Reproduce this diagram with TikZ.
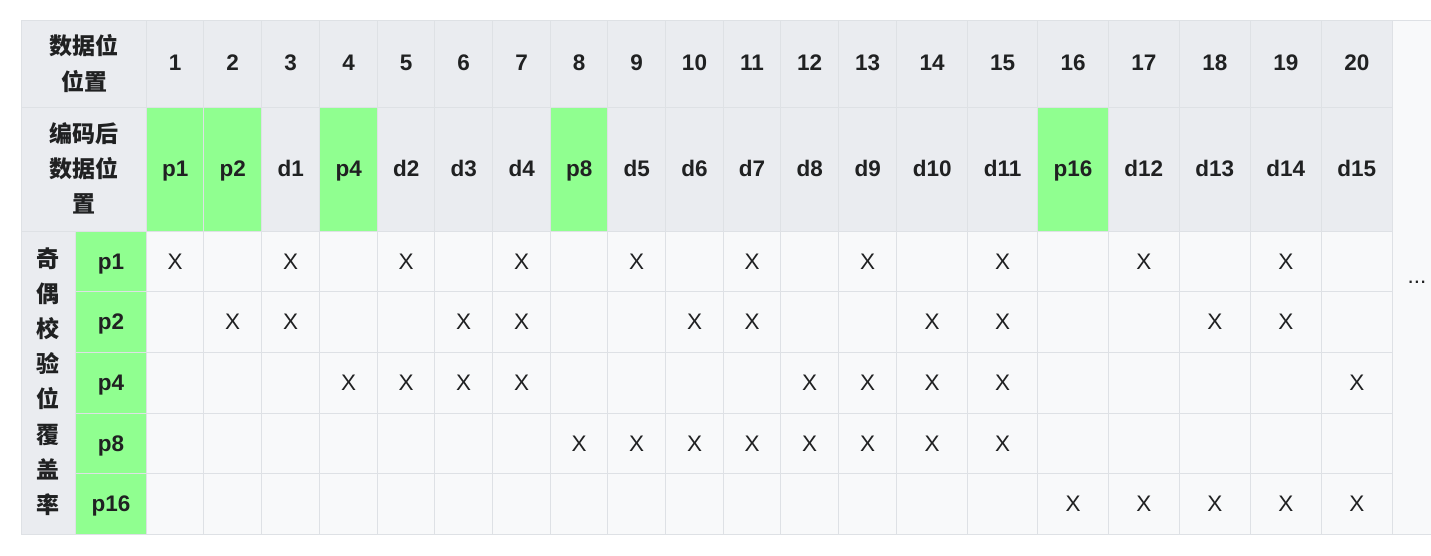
\documentclass[tikz,border=0pt]{standalone}
\usepackage{fontspec}
\setmainfont{Liberation Sans}
\newfontfamily\cjk{Noto Sans CJK SC}
\definecolor{hdr}{HTML}{EAECF0}
\definecolor{cellbg}{HTML}{F8F9FA}
\definecolor{grn}{HTML}{90FF90}
\definecolor{gridc}{HTML}{DEE1E5}
\definecolor{ink}{HTML}{202122}
\begin{document}
\begin{tikzpicture}[x=1pt,y=-1pt,
  bold/.style={anchor=base,inner sep=0pt,text=ink,font=\fontsize{22.5}{27}\selectfont\bfseries},
  xmk/.style={anchor=base,inner sep=0pt,text=ink,font=\fontsize{22.5}{27}\selectfont},
  cjkhead/.style={align=center,inner sep=0pt,text=ink,font=\cjk\bfseries\fontsize{23}{35.2}\selectfont},
  gridline/.style={draw=gridc,line width=1pt}]
\useasboundingbox (0,0) rectangle (1431,556);
% backgrounds
\fill[hdr] (21.3,20.3) rectangle (1392.3,231.3);
\fill[hdr] (21.3,231.3) rectangle (75.3,534);
\fill[cellbg] (146.7,231.3) rectangle (1392.3,534);
\fill[cellbg] (1392.3,20.3) rectangle (1431,534);
\fill[grn] (75.3,231.3) rectangle (146.7,534);
\foreach \l/\r in {146.7/203.7,203.7/261.7,319.7/377.7,550.7/607.7,1037.7/1108.3}
  \fill[grn] (\l,107.3) rectangle (\r,231.3);
% grid
\draw[gridline] (21.3,20.3) -- (1431,20.3);
\draw[gridline] (21.3,107.3) -- (1392.3,107.3);
\draw[gridline] (21.3,231.3) -- (1392.3,231.3);
\foreach \y in {291.7,352.3,413.3,473.3}
  \draw[gridline] (75.3,\y) -- (1392.3,\y);
\draw[gridline] (21.3,534) -- (1431,534);
\draw[gridline] (21.3,20.3) -- (21.3,534);
\draw[gridline] (75.3,231.3) -- (75.3,534);
\foreach \x in {146.7,203.7,261.7,319.7,377.7,434.7,492.7,550.7,607.7,665.7,723.3,780.7,838.7,896.7,967.7,1037.7,1108.3,1179.3,1250.3,1321.3,1392.3}
  \draw[gridline] (\x,20.3) -- (\x,534);
% header texts
\node[cjkhead] (hpos) at (84,63.5) {数据位\\位置};
\node[cjkhead] (hcode) at (84,168.5) {编码后\\数据位\\置};
\node[cjkhead] (hcover) at (48.3,381.5) {奇\\偶\\校\\验\\位\\覆\\盖\\率};
% column headers
\foreach \i/\l/\r/\code in {1/146.7/203.7/p1,2/203.7/261.7/p2,3/261.7/319.7/d1,4/319.7/377.7/p4,
  5/377.7/434.7/d2,6/434.7/492.7/d3,7/492.7/550.7/d4,8/550.7/607.7/p8,9/607.7/665.7/d5,
  10/665.7/723.3/d6,11/723.3/780.7/d7,12/780.7/838.7/d8,13/838.7/896.7/d9,14/896.7/967.7/d10,
  15/967.7/1037.7/d11,16/1037.7/1108.3/p16,17/1108.3/1179.3/d12,18/1179.3/1250.3/d13,
  19/1250.3/1321.3/d14,20/1321.3/1392.3/d15}{
  \pgfmathsetmacro\xc{(\l+\r)/2}
  \node[bold] (num\i) at (\xc,71) {\i};
  \node[bold] (code\i) at (\xc,176.7) {\code};
  \foreach \rr/\p/\yc in {1/1/261.5,2/2/322,3/4/382.8,4/8/443.3,5/16/503.7}{
    \pgfmathtruncatemacro\bit{mod(floor(\i/\p),2)}
    \ifnum\bit=1 \node[xmk] (x\rr-\i) at (\xc,\yc+7.8) {X};\fi
  }
}
% row labels
\foreach \rr/\p/\yc in {1/1/261.5,2/2/322,3/4/382.8,4/8/443.3,5/16/503.7}
  \node[bold] (row\rr) at (111,\yc+7.8) {p\p};
\node[xmk] (more) at (1417,283.5) {...};
\end{tikzpicture}
\end{document}
